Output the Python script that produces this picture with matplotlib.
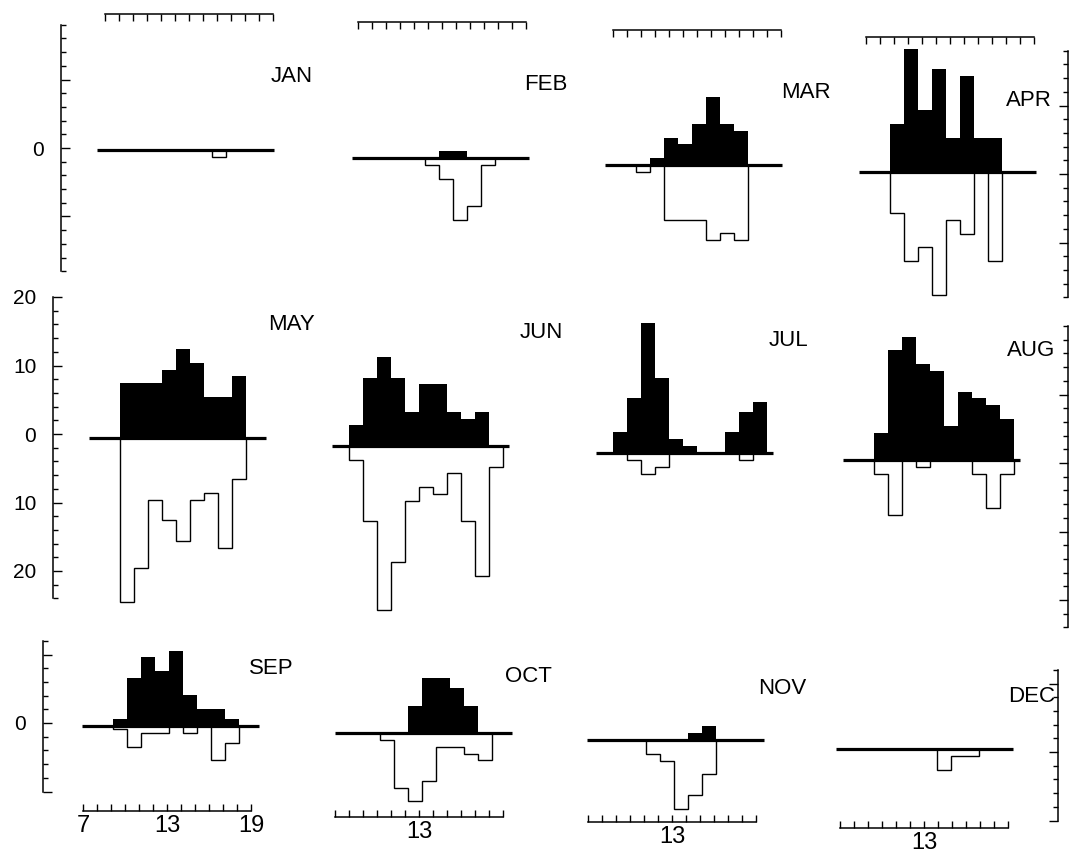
import numpy as np
import matplotlib
matplotlib.use("Agg")
import matplotlib.pyplot as plt

W, H = 1075, 856

# hourly bins, 07-08 ... 18-19
hours = np.arange(7, 19)
edges = np.arange(7, 20)
months = ["JAN", "FEB", "MAR", "APR", "MAY", "JUN",
          "JUL", "AUG", "SEP", "OCT", "NOV", "DEC"]

# counts above the line (black bars), one value per hour bin
jan_up = [0, 0, 0, 0, 0, 0, 0, 0, 0, 0, 0, 0]
feb_up = [0, 0, 0, 0, 0, 0, 1, 1, 0, 0, 0, 0]
mar_up = [0, 0, 0, 1, 4, 3, 6, 10, 6, 5, 0, 0]
apr_up = [0, 0, 7, 18, 9, 15, 5, 14, 5, 5, 0, 0]
may_up = [0, 0, 8, 8, 8, 10, 13, 11, 6, 6, 9, 0]
jun_up = [0, 3, 10, 13, 10, 5, 9, 9, 5, 4, 5, 0]
jul_up = [0, 3, 8, 19, 11, 2, 1, 0, 0, 3, 6, 7.5]
aug_up = [0, 0, 4, 16, 18, 14, 13, 5, 10, 9, 8, 6]
sep_up = [0, 0, 1, 7, 10, 8, 11, 4.5, 2.5, 2.5, 1, 0]
oct_up = [0, 0, 0, 0, 0, 4, 8, 8, 6.5, 4, 0, 0]
nov_up = [0, 0, 0, 0, 0, 0, 0, 1, 2, 0, 0, 0]
dec_up = [0, 0, 0, 0, 0, 0, 0, 0, 0, 0, 0, 0]

# counts below the line (open steps)
jan_dn = [0, 0, 0, 0, 0, 0, 0, 0, 1, 0, 0, 0]
feb_dn = [0, 0, 0, 0, 0, 1, 3, 9, 7, 1, 0, 0]
mar_dn = [0, 0, 1, 0, 8, 8, 8, 11, 10, 11, 0, 0]
apr_dn = [0, 0, 6, 13, 11, 18, 7, 9, 0, 13, 0, 0]
may_dn = [0, 0, 24, 19, 9, 12, 15, 9, 8, 16, 6, 0]
jun_dn = [0, 2, 11, 24, 17, 8, 6, 7, 4, 11, 19, 3]
jul_dn = [0, 0, 1, 3, 2, 0, 0, 0, 0, 0, 1, 0]
aug_dn = [0, 0, 2, 8, 0, 1, 0, 0, 0, 2, 7, 2]
sep_dn = [0, 0, 0.5, 3, 1, 1, 0, 1, 0, 5, 2.5, 0]
oct_dn = [0, 0, 0, 1, 8, 10, 7, 2, 2, 3, 4, 0]
nov_dn = [0, 0, 0, 0, 2, 3, 10, 8, 5, 0, 0, 0]
dec_dn = [0, 0, 0, 0, 0, 0, 0, 3, 1, 1, 0, 0]

ups = [jan_up, feb_up, mar_up, apr_up, may_up, jun_up,
       jul_up, aug_up, sep_up, oct_up, nov_up, dec_up]
dns = [jan_dn, feb_dn, mar_dn, apr_dn, may_dn, jun_dn,
       jul_dn, aug_dn, sep_dn, oct_dn, nov_dn, dec_dn]

# page layout (pixels): x of 07h, y of the zero line, month label centre
x7 = [100, 355, 608, 862, 92, 335, 599, 846, 85, 338, 590, 839]
y0 = [150, 158, 165, 172, 438, 446, 453, 460, 726, 733, 740, 749]
lab_xy = [(292, 76), (546, 84), (806, 92), (1029, 100),
          (292, 324), (541, 333), (788, 340), (1031, 350),
          (271, 668), (528, 677), (782, 688), (1032, 697)]

PXH = 14.0    # pixels per hour
PXU = 6.85    # pixels per count

plt.rcParams["font.family"] = ["Liberation Sans", "DejaVu Sans"]

fig = plt.figure(figsize=(W / 100, H / 100), dpi=100)


def px_axes(left, top, width, height):
    return fig.add_axes([left / W, 1 - (top + height) / H, width / W, height / H])


def panel(i):
    ax = px_axes(x7[i] - 2 * PXH, y0[i] - 26 * PXU, 16 * PXH, 54 * PXU)
    ax.set_xlim(5, 21)
    ax.set_ylim(-28, 26)
    ax.axis("off")
    ax.stairs(-np.asarray(dns[i], dtype=float), edges, baseline=0, fill=False,
              color="black", lw=1.0)
    ax.bar(hours, ups[i], width=1, align="edge", color="black", linewidth=0)
    ax.plot([6.8, 19.4], [0, 0], color="black", lw=2.3, solid_capstyle="butt")
    fig.text(lab_xy[i][0] / W, 1 - lab_xy[i][1] / H, months[i],
             fontsize=16, ha="center", va="center")


def v_rail(x, zero, top, bot, side="left", labels=(0,), longs=(10, 0, -10, -20)):
    left = x if side == "left" else x - 1
    ax = px_axes(left, zero - top * PXU, 1, (top - bot) * PXU)
    ax.set_ylim(bot, top)
    ax.set_xticks([])
    ax.patch.set_visible(False)
    for s in ax.spines:
        ax.spines[s].set_visible(s == side)
    ax.spines[side].set_linewidth(1.1)
    ax.yaxis.set_ticks_position(side)
    major = [v for v in longs if bot <= v <= top]
    ax.set_yticks(major)
    ax.set_yticks([v for v in range(bot, top + 1, 2) if v not in major], minor=True)
    ax.set_yticklabels([str(abs(v)) if v in labels else "" for v in major])
    ax.tick_params(axis="y", which="major", direction="in", length=6.5, width=1.0,
                   pad=12, labelsize=15)
    ax.tick_params(axis="y", which="minor", direction="in", length=3.8, width=1.0)


def h_rail(x, y, where, labels):
    ax = px_axes(x, y - 1 if where == "top" else y, 12 * PXH, 1)
    ax.set_xlim(7, 19)
    ax.set_yticks([])
    ax.patch.set_visible(False)
    for s in ax.spines:
        ax.spines[s].set_visible(s == where)
    ax.spines[where].set_linewidth(1.1)
    ax.xaxis.set_ticks_position(where)
    ax.set_xticks(edges)
    ax.set_xticklabels([str(h) if h in labels else "" for h in edges])
    ax.tick_params(axis="x", direction="in", length=5, width=1.0, pad=3, labelsize=17)


for i in range(12):
    panel(i)

# top hour rails (first row)
h_rail(105, 15, "top", [])
h_rail(358, 23, "top", [])
h_rail(613, 31, "top", [])
h_rail(866, 38, "top", [])
# bottom hour rails (last row)
h_rail(83, 810, "bottom", [7, 13, 19])
h_rail(335, 816, "bottom", [13])
h_rail(588, 821, "bottom", [13])
h_rail(840, 827, "bottom", [13])

# count scales
v_rail(61, 148, 18, -18)
v_rail(53, 434, 20, -24, labels=(20, 10, 0, -10, -20), longs=(20, 10, 0, -10, -20))
v_rail(43, 723, 12, -10)
v_rail(1068, 174, 18, -18, side="right", labels=())
v_rail(1068, 463, 20, -24, side="right", labels=())
v_rail(1058, 752, 12, -10, side="right", labels=())

fig.savefig("out.png", dpi=100, facecolor="white")
